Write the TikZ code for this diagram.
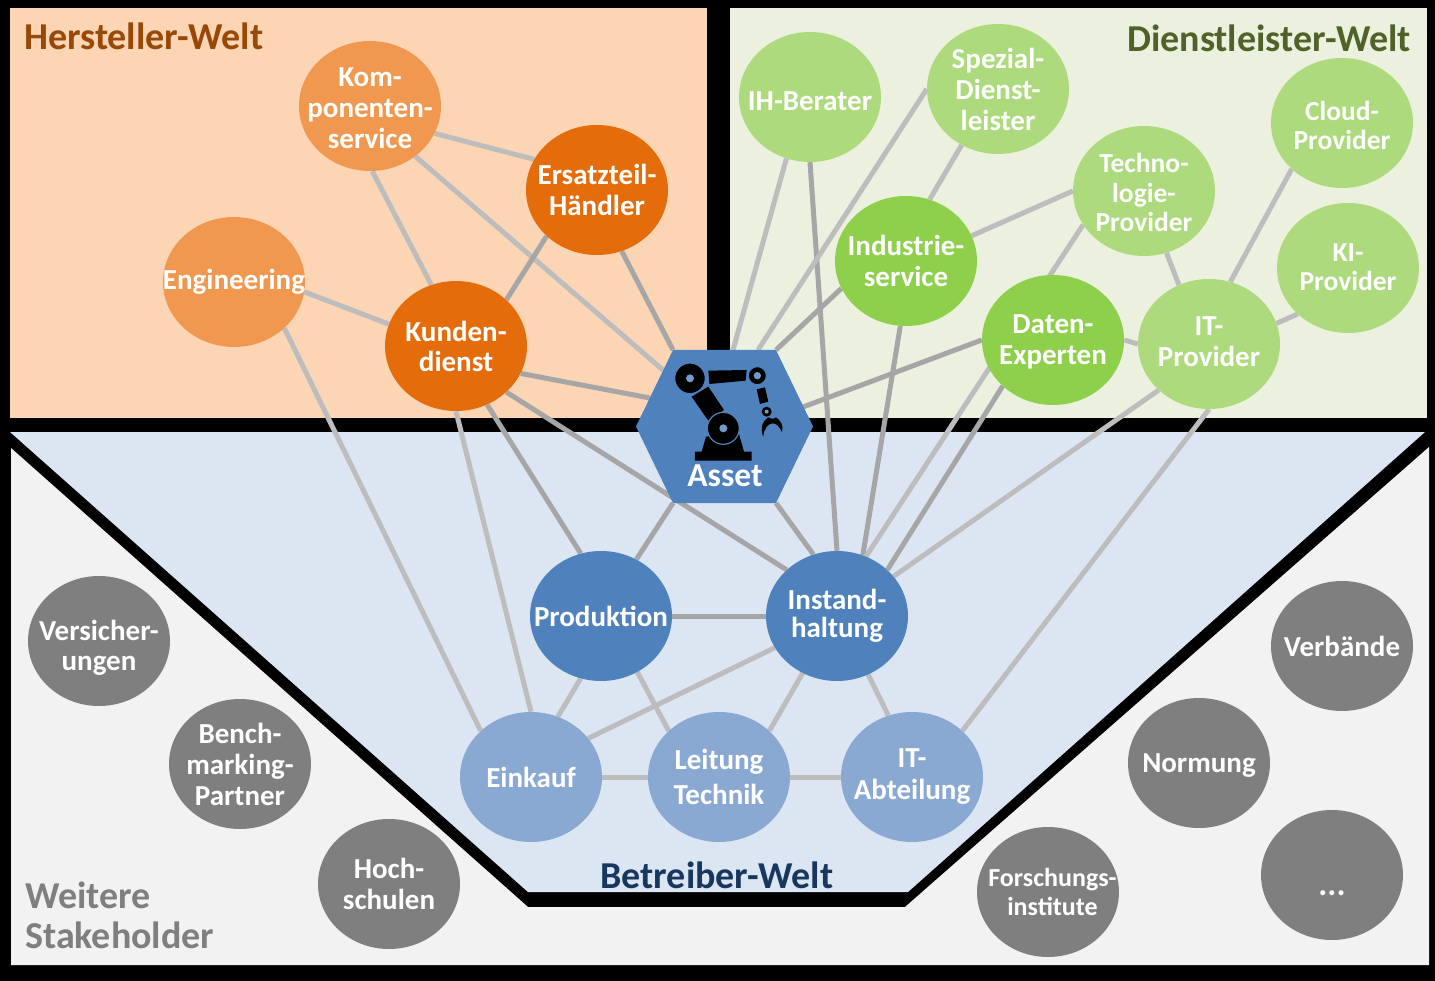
\documentclass[tikz,border=0pt]{standalone}
\usepackage{fontspec}
\setmainfont{Carlito}
\usetikzlibrary{shapes.geometric}
\pgfdeclarelayer{bg}
\pgfdeclarelayer{edges}
\pgfsetlayers{bg,edges,main}
\definecolor{cOrD}{HTML}{E46C0A}
\definecolor{cOrL}{HTML}{F0984F}
\definecolor{cGrM}{HTML}{8ECF4C}
\definecolor{cGrL}{HTML}{ADDA7C}
\definecolor{cBlD}{HTML}{4F81BD}
\definecolor{cBlL}{HTML}{8AA9D2}
\definecolor{cGy}{HTML}{7F7F7F}
\definecolor{cEdgeL}{HTML}{BDBDBD}
\definecolor{cEdgeD}{HTML}{A6A6A6}
\definecolor{cPeach}{RGB}{252,213,181}
\definecolor{cPale}{RGB}{235,241,222}
\definecolor{cSky}{RGB}{220,230,242}
\definecolor{cGrey}{RGB}{242,242,242}
\tikzset{
  bubble/.style={ellipse,minimum width=142pt,minimum height=130pt,inner sep=0pt,draw=none},
  orD/.style={bubble,fill=cOrD}, orL/.style={bubble,fill=cOrL},
  grM/.style={bubble,fill=cGrM}, grL/.style={bubble,fill=cGrL},
  blD/.style={bubble,fill=cBlD}, blL/.style={bubble,fill=cBlL},
  gy/.style={bubble,fill=cGy},
  tl/.style={text=white,align=center,inner sep=0pt,font=\bfseries\fontsize{29}{31}\selectfont},
  ts/.style={tl,font=\bfseries\fontsize{27.5}{29.5}\selectfont},
  title/.style={inner sep=0pt,font=\bfseries\fontsize{38}{40}\selectfont},
  edgeL/.style={draw=cEdgeL,line width=5pt},
  edgeD/.style={draw=cEdgeD,line width=5pt},
}
\begin{document}
\begin{tikzpicture}[x=1pt,y=-1pt]
\useasboundingbox (0,0) rectangle (1435,981);
\begin{pgfonlayer}{bg}
\fill[black] (0,0) rectangle (1435,981);
\fill[cPeach] (10,8) rectangle (707,418);
\fill[cPale] (730,8) rectangle (1427,418);
\fill[cSky] (10,432) -- (1425,432) -- (908,892) -- (528,892) -- cycle;
\fill[cGrey] (11,448) -- (528,907) -- (905,907) -- (1429,447) -- (1429,965) -- (11,965) -- cycle;
\end{pgfonlayer}

\node[title,anchor=west,text={rgb,255:red,152;green,72;blue,7}] (tHersteller) at (24,36) {Hersteller-Welt};
\node[title,anchor=east,text={rgb,255:red,79;green,98;blue,40}] (tDienst) at (1411,38) {Dienstleister-Welt};
\node[title,text={rgb,255:red,23;green,55;blue,94}] (tBetreiber) at (717,875) {Betreiber-Welt};
\node[title,anchor=north west,align=left,text=cGy] (tWeitere) at (25,882) {Weitere\\Stakeholder};

\node[orL,label={[tl,yshift=-2.5pt]center:Kom-\\ponenten-\\service}] (komp) at (370,106) {};
\node[orD,label={[tl]center:Ersatzteil-\\Händler}] (ersatz) at (597,190) {};
\node[orL,label={[tl]center:Engineering}] (eng) at (234,282) {};
\node[orD,label={[tl,yshift=-0.5pt,font=\bfseries\fontsize{29}{29.5}\selectfont]center:Kunden-\\dienst}] (kund) at (456,346) {};

\node[grL,label={[tl,yshift=-4pt]center:IH-Berater}] (ih) at (810,97) {};
\node[grL,label={[tl]center:Spezial-\\Dienst-\\leister}] (spez) at (998,89) {};
\node[grL,label={[ts,yshift=-2.5pt]center:Cloud-\\Provider}] (cloud) at (1342,123) {};
\node[grL,label={[ts,yshift=-1.5pt]center:Techno-\\logie-\\Provider}] (techno) at (1144,191) {};
\node[grM,label={[tl]center:Industrie-\\service}] (indus) at (906,261) {};
\node[grL,label={[ts,yshift=1pt]center:KI-\\Provider}] (ki) at (1348,268) {};
\node[grM,label={[tl,yshift=-2pt]center:Daten-\\Experten}] (daten) at (1053,340) {};
\node[grL,label={[tl,yshift=2.5pt]center:IT-\\Provider}] (itp) at (1209,344) {};

\coordinate (hexNW) at (673,350);
\coordinate (hexNE) at (776,350);
\coordinate (hexE) at (813,426.5);
\coordinate (hexSE) at (776,503);
\coordinate (hexSW) at (673,503);
\coordinate (hexW) at (636,426.5);
\coordinate (hitKomp) at (663,370);
\coordinate (hitKund) at (650,398);
\coordinate (hitIH) at (733,350);
\coordinate (hitSpez) at (758,350);
\coordinate (hitDaten) at (803,407);
\fill[cBlD] (hexNW) -- (hexNE) -- (hexE) -- (hexSE) -- (hexSW) -- (hexW) -- cycle;

\node[blD,label={[tl]center:Produktion}] (prod) at (601,616) {};
\node[blD,label={[tl,font=\bfseries\fontsize{29}{28}\selectfont]center:Instand-\\haltung}] (inst) at (837,616) {};
\node[blL,label={[tl]center:Einkauf}] (eink) at (531,777) {};
\node[blL,label={[tl,font=\bfseries\fontsize{29}{35}\selectfont]center:Leitung\\Technik}] (leit) at (719,777) {};
\node[blL,label={[tl,font=\bfseries\fontsize{29}{32}\selectfont]center:IT-\\Abteilung}] (itab) at (912,777) {};

\node[gy,label={[tl,yshift=-7pt,font=\bfseries\fontsize{29}{30}\selectfont]center:Versicher-\\ungen}] (vers) at (99,641) {};
\node[gy,label={[tl]center:Bench-\\marking-\\Partner}] (bench) at (240,764) {};
\node[gy,label={[tl]center:Hoch-\\schulen}] (hoch) at (389,884) {};
\node[gy,label={[tl]center:Verbände}] (verb) at (1342,646) {};
\node[gy,label={[tl,yshift=-3pt]center:Normung}] (norm) at (1199,763) {};
\node[gy,label={[ts,xshift=4.5pt,font=\bfseries\fontsize{26}{29}\selectfont]center:Forschungs-\\institute}] (forsch) at (1048,892) {};
\node[gy,label={[tl,yshift=-18pt,font=\bfseries\fontsize{34}{36}\selectfont]center:...}] (more) at (1332,875) {};

\begin{pgfonlayer}{edges}
\draw[edgeL] (komp.-23.4) -- (ersatz.154.2);
\draw[edgeL] (komp.-88) -- (kund.112.4);
\draw[edgeL] (komp.-48.7) -- (hitKomp);
\draw[edgeL] (eng.-8.8) -- (kund.162.8);
\draw[edgeL] (eng.south east) -- (eink.north west);
\draw[edgeD] (ersatz.south west) -- (kund.north east);
\draw[edgeD] (ersatz.-68) -- (hexNW);
\draw[edgeD] (kund.-23.6) -- (hitKund);
\draw[edgeL] (kund.south) -- (eink.north);
\draw[edgeD] (kund.-62.3) -- (prod.108.2);
\draw[edgeD] (kund.south east) -- (inst.north west);
\draw[edgeD] (hexSW) -- (prod.58);
\draw[edgeD] (hexSE) -- (inst.111.6);
\draw[edgeL] (ih.249.9) -- (hitIH);
\draw[edgeD] (ih.south) -- (inst.north);
\draw[edgeL] (spez.west) -- (hitSpez);
\draw[edgeL] (spez.237.3) -- (indus.69);
\draw[edgeD] (indus.203.6) -- (hexNE);
\draw[edgeL] (indus.21.5) -- (techno.west);
\draw[edgeD] (indus.-95) -- (inst.67.9);
\draw[edgeL] (techno.209.5) -- (inst.64.2);
\draw[edgeD] (daten.west) -- (hitDaten);
\draw[edgeD] (daten.south west) -- (inst.north east);
\draw[edgeL] (daten.east) -- (itp.west);
\draw[edgeL] (itp.south west) -- (inst.35.3);
\draw[edgeL] (itp.south) -- (itab.north east);
\draw[edgeL] (techno.-70) -- (itp.117.3);
\draw[edgeL] (cloud.south west) -- (itp.71.8);
\draw[edgeL] (itp.17) -- (ki.south west);
\draw[edgeD] (prod.east) -- (inst.west);
\draw[edgeL] (prod.252.1) -- (eink.66.5);
\draw[edgeL] (prod.-57.7) -- (leit.north west);
\draw[edgeL] (inst.207.3) -- (eink.34.4);
\draw[edgeL] (inst.239.2) -- (leit.north east);
\draw[edgeL] (inst.-62.3) -- (itab.111.2);
\draw[edgeL] (eink.east) -- (leit.west);
\draw[edgeL] (leit.east) -- (itab.west);
\end{pgfonlayer}

% robot icon (coordinates read off a 3x crop at 600,330)
\begin{scope}[shift={(600,330)},x=0.3333pt,y=-0.3333pt]
  \fill[black] (318,320) -- (305,365) -- (285,365) -- (285,392) -- (455,392) -- (455,365) -- (432,365) -- (415,305) -- cycle;
  \fill[black] (275,200) -- (325,170) -- (372,240) -- (325,272) -- cycle;
  \fill[black] (325,122) -- (440,120) -- (437,152) -- (328,162) -- cycle;
  \fill[black] (470,178) -- (495,172) -- (505,215) -- (480,222) -- cycle;
  \fill[black,draw=cBlD,line width=1.2pt] (270,145) circle[radius=46];
  \fill[cBlD!80!white] (270,145) circle[radius=12];
  \fill[black,draw=cBlD,line width=1.2pt] (370,295) circle[radius=48];
  \fill[cBlD!80!white] (370,295) circle[radius=12];
  \fill[black,draw=cBlD,line width=1pt] (472,137) circle[radius=27];
  \fill[cBlD!80!white] (472,137) circle[radius=11];
  \fill[black] (500,245) circle[radius=15];
  \fill[cBlD!80!white] (500,245) circle[radius=6];
  \fill[black] (490,320) .. controls (478,295) and (490,270) .. (505,262)
    .. controls (512,268) and (520,268) .. (528,262)
    .. controls (542,270) and (552,290) .. (546,306)
    .. controls (538,290) and (530,280) .. (518,280)
    .. controls (505,280) and (492,295) .. (490,320) -- cycle;
\end{scope}
\node[inner sep=0pt,text=white,font=\bfseries\fontsize{33.5}{36}\selectfont] (asset) at (725,476) {Asset};
\end{tikzpicture}
\end{document}
